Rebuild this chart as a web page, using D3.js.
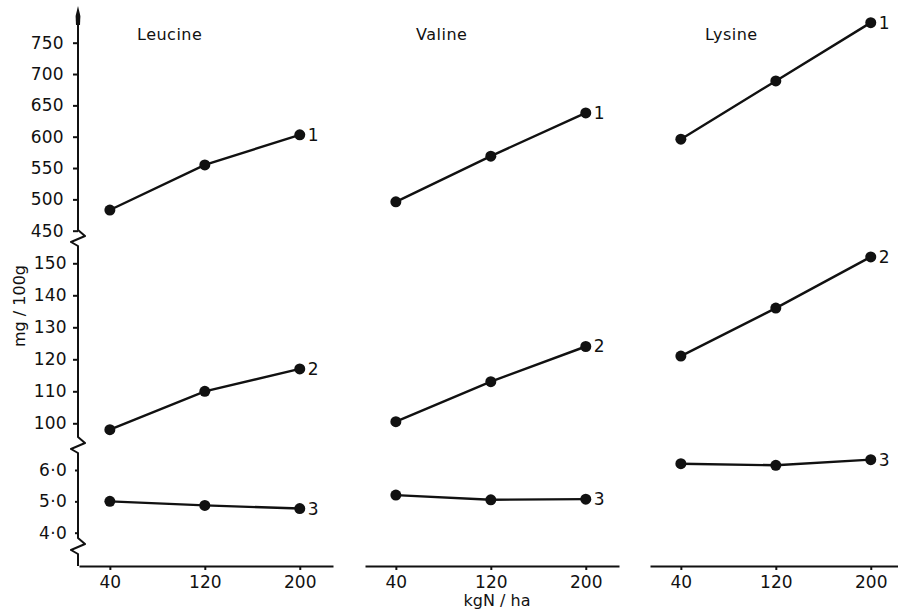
<!DOCTYPE html>
<html><head><meta charset="utf-8">
<script src="https://cdn.jsdelivr.net/npm/d3@7"></script>
<style>
body{margin:0;background:#fff;}
svg{display:block;}
text{font-family:"DejaVu Sans",sans-serif;fill:#111;}
</style></head><body>
<svg id="c" width="898" height="610"></svg>
<script>
// ---- data ----
const doses = [40, 120, 200];
const aminoAcids = ["Leucine", "Valine", "Lysine"];
const series1 = [[483, 555, 603], [496, 569, 638], [596, 689, 782]];
const series2 = [[98, 110, 117], [100.5, 113, 124], [121, 136, 152]];
const series3 = [[5.0, 4.87, 4.77], [5.2, 5.05, 5.07], [6.2, 6.15, 6.33]];
const seriesNames = ["1", "2", "3"];
const ticksTop = [450, 500, 550, 600, 650, 700, 750];
const ticksMid = [100, 110, 120, 130, 140, 150];
const ticksBot = [4, 5, 6];
const yTitle = "mg / 100g";
const xTitle = "kgN / ha";

// ---- layout ----
const svg = d3.select("#c");
const axisX = 78, baseY = 566;
const panelLeft = [79, 365, 650], panelW = 254;
const titleOffset = [58, 51, 55];
const yTop = d3.scaleLinear([450, 750], [230.7, 42.7]);
const yMid = d3.scaleLinear([100, 150], [423.3, 263.3]);
const yBot = d3.scaleLinear([4, 6], [532.7, 470]);
const x = d3.scaleLinear([14, 228], [0, panelW]);
const ink = "#111";
const fam = '"DejaVu Sans",sans-serif';

// y axis ticks
function yAxis(scale, ticks, size, pad, fmt) {
  const g = svg.append("g").attr("transform", `translate(${axisX},0)`)
    .call(d3.axisLeft(scale).tickValues(ticks).tickSize(size).tickPadding(pad).tickFormat(fmt));
  g.select(".domain").remove();
  g.selectAll("line").attr("stroke", ink).attr("stroke-width", 2);
  g.selectAll("text").style("font-size", "17px").style("letter-spacing", "0.3px")
    .style("font-family", fam).attr("fill", ink);
}
yAxis(yTop, ticksTop, 5, 9, d3.format("d"));
yAxis(yMid, ticksMid, 5, 6, d3.format("d"));
yAxis(yBot, ticksBot, 3, 8, d => d3.format(".1f")(d).replace(".", "·"));

// y axis line with breaks
const zig = y0 => [[axisX, y0], [axisX + 7, y0 + 6], [axisX - 7, y0 + 12], [axisX, y0 + 16]];
const pts = [[axisX, 10], ...zig(230), ...zig(437), ...zig(538), [axisX, baseY]];
svg.append("path").attr("d", d3.line()(pts)).attr("fill", "none")
  .attr("stroke", ink).attr("stroke-width", 2).attr("stroke-linejoin", "round");
svg.append("path").attr("d", `M${axisX},6 L${axisX + 2.4},16 L${axisX + 2},25 L${axisX - 2},25 L${axisX - 2.4},16 Z`)
  .attr("fill", ink);

// panels
aminoAcids.forEach((name, p) => {
  const g = svg.append("g").attr("transform", `translate(${panelLeft[p]},0)`);
  const ax = g.append("g").attr("transform", `translate(0,${baseY})`)
    .call(d3.axisBottom(x).tickValues(doses).tickSize(4).tickSizeOuter(0).tickPadding(6));
  ax.select(".domain").attr("stroke", ink).attr("stroke-width", 2);
  ax.selectAll("line").attr("stroke", ink).attr("stroke-width", 2);
  ax.selectAll("text").style("font-size", "17px").style("font-family", fam).attr("fill", ink);

  g.append("text").attr("x", titleOffset[p]).attr("y", 40).style("font-size", "16px")
    .style("letter-spacing", "0.5px").text(name);

  const sets = [[series1[p], yTop], [series2[p], yMid], [series3[p], yBot]];
  sets.forEach(([vals, sc], s) => {
    g.append("path").datum(vals)
      .attr("d", d3.line().x((d, i) => x(doses[i])).y(d => sc(d)))
      .attr("fill", "none").attr("stroke", ink).attr("stroke-width", 2.4);
    g.selectAll(null).data(vals).join("circle")
      .attr("cx", (d, i) => x(doses[i])).attr("cy", d => sc(d)).attr("r", 5.5).attr("fill", ink);
    g.append("text").attr("x", x(doses[2]) + 8).attr("y", sc(vals[2]))
      .attr("dy", "0.35em").style("font-size", "17px").text(seriesNames[s]);
  });
});

// axis titles
svg.append("text").attr("transform", "translate(25,306) rotate(-90)")
  .attr("text-anchor", "middle").style("font-size", "16px").text(yTitle);
svg.append("text").attr("x", 497).attr("y", 606).attr("text-anchor", "middle")
  .style("font-size", "16px").text(xTitle);
</script>
</body></html>
